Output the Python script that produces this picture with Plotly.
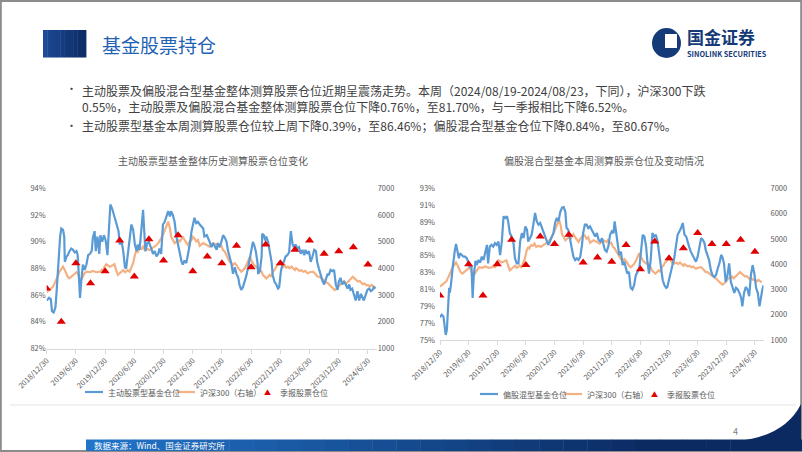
import plotly.graph_objects as go

W, H = 802, 452
FONT = "Noto Sans CJK SC"


def px(x):
    return x / W


def py(y):
    return 1 - y / H


# ---------------- data ----------------
tick_vals = [2019.0, 2019.5, 2020.0, 2020.5, 2021.0, 2021.5, 2022.0, 2022.5, 2023.0, 2023.5, 2024.0, 2024.5]
tick_text = ['2018/12/30', '2019/6/30', '2019/12/30', '2020/6/30', '2020/12/30', '2021/6/30',
             '2021/12/30', '2022/6/30', '2022/12/30', '2023/6/30', '2023/12/30', '2024/6/30']

quarter_x = [2019.00, 2019.25, 2019.50, 2019.75, 2020.00, 2020.25, 2020.50, 2020.75, 2021.00, 2021.25,
             2021.50, 2021.75, 2022.00, 2022.25, 2022.50, 2022.75, 2023.00, 2023.25, 2023.50, 2023.75,
             2024.00, 2024.25, 2024.50]
q_active = [86.5, 84.0, 88.4, 86.9, 87.8, 90.1, 87.4, 90.2, 88.6, 90.5,
            87.8, 88.9, 88.4, 89.7, 88.1, 89.8, 88.4, 89.4, 90.1, 89.1,
            89.3, 89.6, 88.3]
q_mixed = [80.3, None, 84.0, 80.3, 84.0, 86.9, 83.9, 87.3, 86.4, 87.5,
           84.2, 84.8, 84.3, 86.3, 83.4, 86.7, 84.7, 85.9, 87.7, 86.4,
           86.4, 86.9, 85.5]

active_x = [
    2019.00, 2019.04, 2019.07, 2019.09, 2019.12, 2019.15, 2019.17, 2019.18, 2019.21, 2019.23,
    2019.25, 2019.28, 2019.30, 2019.31, 2019.34, 2019.36, 2019.39, 2019.42, 2019.45, 2019.48,
    2019.51, 2019.53, 2019.55, 2019.57, 2019.59, 2019.62, 2019.65, 2019.68, 2019.71, 2019.74,
    2019.77, 2019.79, 2019.82, 2019.84, 2019.87, 2019.90, 2019.92, 2019.95, 2019.98, 2020.01,
    2020.04, 2020.07, 2020.09, 2020.12, 2020.15, 2020.19, 2020.23, 2020.25, 2020.28, 2020.31,
    2020.34, 2020.36, 2020.39, 2020.42, 2020.45, 2020.48, 2020.51, 2020.54, 2020.56, 2020.59,
    2020.62, 2020.65, 2020.67, 2020.69, 2020.72, 2020.75, 2020.79, 2020.82, 2020.85, 2020.88,
    2020.91, 2020.93, 2020.96, 2020.99, 2021.02, 2021.05, 2021.08, 2021.11, 2021.13, 2021.16,
    2021.19, 2021.22, 2021.25, 2021.28, 2021.31, 2021.33, 2021.36, 2021.39, 2021.42, 2021.45,
    2021.48, 2021.50, 2021.53, 2021.56, 2021.59, 2021.62, 2021.68, 2021.70, 2021.74, 2021.79,
    2021.82, 2021.85, 2021.88, 2021.91, 2021.93, 2021.96, 2021.99, 2022.02, 2022.05, 2022.08,
    2022.10, 2022.13, 2022.16, 2022.19, 2022.22, 2022.25, 2022.28, 2022.30, 2022.33, 2022.36,
    2022.39, 2022.42, 2022.45, 2022.48, 2022.50, 2022.53, 2022.55, 2022.58, 2022.61, 2022.62,
    2022.65, 2022.68, 2022.69, 2022.72, 2022.74, 2022.76, 2022.79, 2022.82, 2022.85, 2022.87,
    2022.90, 2022.93, 2022.96, 2022.98, 2023.01, 2023.04, 2023.06, 2023.09, 2023.12, 2023.15,
    2023.18, 2023.21, 2023.23, 2023.26, 2023.29, 2023.32, 2023.35, 2023.38, 2023.41, 2023.43,
    2023.46, 2023.49, 2023.52, 2023.55, 2023.58, 2023.61, 2023.63, 2023.66, 2023.69, 2023.72,
    2023.75, 2023.78, 2023.81, 2023.83, 2023.86, 2023.89, 2023.92, 2023.95, 2023.98, 2024.00,
    2024.03, 2024.06, 2024.09, 2024.12, 2024.15, 2024.18, 2024.20, 2024.23, 2024.26, 2024.29,
    2024.32, 2024.35, 2024.38, 2024.41, 2024.43, 2024.46, 2024.49, 2024.52, 2024.55, 2024.58,
    2024.60, 2024.63]
active_pct = [
    85.6, 85.8, 85.7, 84.8, 84.7, 85.1, 86.3, 87.1, 89.1, 90.4,
    91.0, 90.9, 90.4, 88.5, 88.9, 89.0, 89.3, 89.5, 89.4, 89.2,
    89.3, 89.0, 87.5, 85.8, 87.0, 88.3, 87.9, 88.3, 89.0, 89.1,
    89.3, 90.3, 90.8, 89.3, 90.4, 89.1, 90.5, 90.0, 90.5, 90.1,
    89.0, 91.0, 92.8, 92.5, 92.0, 91.5, 90.8, 89.8, 90.1, 89.3,
    88.1, 88.0, 89.0, 90.0, 91.3, 90.9, 89.8, 89.3, 89.8, 89.4,
    91.0, 92.4, 90.8, 89.3, 89.9, 90.0, 89.5, 89.1, 89.3, 88.9,
    89.1, 89.5, 89.1, 91.3, 91.5, 92.0, 92.3, 91.9, 92.3, 92.0,
    91.5, 90.4, 89.8, 89.0, 88.5, 88.3, 88.6, 88.4, 89.0, 89.8,
    90.8, 91.3, 91.8, 91.4, 91.5, 91.3, 91.0, 90.4, 90.5, 90.0,
    89.6, 89.9, 89.6, 89.4, 89.9, 89.6, 90.0, 90.5, 90.3, 90.0,
    89.4, 88.9, 88.4, 87.6, 88.1, 87.6, 87.3, 86.8, 86.4, 86.6,
    87.0, 87.5, 88.1, 88.8, 89.0, 90.0, 89.8, 89.3, 88.4, 87.6,
    87.8, 88.9, 90.6, 90.5, 90.1, 90.4, 90.0, 89.3, 88.5, 87.5,
    87.0, 86.8, 86.5, 86.6, 87.8, 88.4, 88.5, 88.9, 89.0, 89.2,
    90.8, 89.8, 89.6, 89.8, 89.5, 89.6, 89.1, 89.4, 89.0, 89.4,
    89.1, 89.3, 88.5, 88.9, 89.4, 89.3, 88.5, 88.0, 87.5, 87.1,
    86.8, 87.3, 87.6, 87.5, 87.9, 87.8, 87.9, 86.8, 86.4, 87.0,
    87.3, 86.8, 87.0, 86.8, 86.5, 86.8, 86.4, 86.5, 86.0, 85.6,
    86.3, 85.6, 86.1, 85.8, 85.6, 86.0, 86.4, 86.5, 86.3, 86.4,
    86.6, 86.5]

mixed_x = [
    2019.00, 2019.03, 2019.06, 2019.08, 2019.10, 2019.12, 2019.13, 2019.16, 2019.17, 2019.19,
    2019.22, 2019.24, 2019.26, 2019.28, 2019.30, 2019.33, 2019.35, 2019.38, 2019.41, 2019.44,
    2019.47, 2019.49, 2019.52, 2019.55, 2019.57, 2019.59, 2019.62, 2019.64, 2019.67, 2019.70,
    2019.73, 2019.76, 2019.79, 2019.82, 2019.84, 2019.87, 2019.90, 2019.93, 2019.96, 2019.99,
    2020.02, 2020.05, 2020.08, 2020.11, 2020.14, 2020.17, 2020.19, 2020.22, 2020.25, 2020.28,
    2020.31, 2020.34, 2020.37, 2020.40, 2020.43, 2020.46, 2020.49, 2020.52, 2020.54, 2020.57,
    2020.60, 2020.63, 2020.66, 2020.69, 2020.72, 2020.75, 2020.78, 2020.81, 2020.84, 2020.87,
    2020.89, 2020.92, 2020.95, 2020.98, 2021.01, 2021.04, 2021.07, 2021.10, 2021.13, 2021.16,
    2021.19, 2021.21, 2021.24, 2021.27, 2021.30, 2021.33, 2021.36, 2021.39, 2021.42, 2021.45,
    2021.48, 2021.50, 2021.53, 2021.56, 2021.59, 2021.62, 2021.65, 2021.68, 2021.71, 2021.74,
    2021.77, 2021.80, 2021.83, 2021.85, 2021.88, 2021.91, 2021.94, 2021.97, 2022.00, 2022.03,
    2022.05, 2022.07, 2022.10, 2022.13, 2022.16, 2022.19, 2022.22, 2022.25, 2022.27, 2022.30,
    2022.33, 2022.36, 2022.39, 2022.42, 2022.45, 2022.48, 2022.51, 2022.54, 2022.57, 2022.60,
    2022.62, 2022.65, 2022.68, 2022.71, 2022.74, 2022.77, 2022.80, 2022.83, 2022.86, 2022.89,
    2022.92, 2022.95, 2022.97, 2023.00, 2023.03, 2023.06, 2023.09, 2023.12, 2023.15, 2023.18,
    2023.21, 2023.24, 2023.27, 2023.30, 2023.32, 2023.35, 2023.38, 2023.41, 2023.44, 2023.47,
    2023.50, 2023.53, 2023.56, 2023.59, 2023.62, 2023.64, 2023.67, 2023.70, 2023.73, 2023.76,
    2023.79, 2023.82, 2023.85, 2023.88, 2023.91, 2023.93, 2023.96, 2023.99, 2024.02, 2024.05,
    2024.08, 2024.11, 2024.14, 2024.17, 2024.20, 2024.23, 2024.26, 2024.28, 2024.31, 2024.34,
    2024.37, 2024.40, 2024.43, 2024.46, 2024.49, 2024.52, 2024.55, 2024.58, 2024.61, 2024.63,
    2024.65]
mixed_pct = [
    77.7, 78.0, 77.8, 76.6, 75.6, 76.2, 78.0, 81.2, 80.6, 81.5,
    83.5, 85.1, 85.7, 86.4, 85.7, 84.7, 85.3, 85.1, 84.9, 84.9,
    84.7, 84.3, 83.7, 83.7, 80.0, 82.7, 84.4, 83.9, 84.5, 84.2,
    84.9, 84.5, 85.5, 86.3, 84.1, 86.1, 86.3, 86.1, 86.5, 86.3,
    86.7, 85.1, 86.7, 89.7, 89.5, 89.7, 89.1, 87.7, 87.3, 86.7,
    84.7, 84.1, 84.1, 86.7, 87.7, 87.1, 88.5, 88.1, 86.7, 87.1,
    87.5, 88.7, 90.1, 89.1, 88.7, 88.9, 88.3, 87.7, 87.3, 86.7,
    86.3, 86.7, 87.3, 87.7, 88.9, 89.5, 89.1, 90.2, 90.7, 90.8,
    90.2, 88.3, 88.1, 87.1, 86.3, 84.9, 84.5, 84.7, 84.5, 84.9,
    86.3, 87.7, 88.7, 88.7, 88.3, 88.5, 88.1, 87.7, 87.3, 87.7,
    86.9, 86.7, 87.1, 86.5, 85.7, 85.5, 86.1, 87.5, 87.9, 87.7,
    89.1, 88.1, 86.7, 85.1, 85.5, 83.9, 84.3, 83.5, 82.9, 83.1,
    81.2, 81.0, 81.5, 82.7, 83.1, 83.5, 85.5, 87.5, 87.3, 86.1,
    84.5, 82.9, 84.5, 87.7, 87.3, 87.5, 86.7, 85.3, 83.5, 82.1,
    81.5, 81.2, 81.3, 82.3, 82.9, 83.9, 84.7, 86.3, 87.5, 87.9,
    88.3, 88.9, 87.5, 87.3, 86.7, 86.1, 85.5, 85.1, 84.7, 84.3,
    84.9, 85.9, 87.1, 86.9, 86.5, 85.7, 85.1, 84.5, 83.3, 82.7,
    82.5, 82.7, 83.5, 84.1, 85.1, 84.9, 84.1, 81.9, 82.7, 84.1,
    81.9, 81.2, 80.6, 81.2, 81.0, 80.6, 80.0, 79.0, 80.6, 81.3,
    81.0, 80.2, 82.7, 83.9, 82.9, 81.2, 80.6, 79.0, 80.4, 81.0,
    81.5]

hs300_x = [
    2019.00, 2019.05, 2019.11, 2019.15, 2019.18, 2019.22, 2019.26, 2019.28, 2019.31, 2019.34,
    2019.36, 2019.39, 2019.42, 2019.45, 2019.48, 2019.51, 2019.54, 2019.56, 2019.59, 2019.62,
    2019.65, 2019.68, 2019.74, 2019.79, 2019.85, 2019.91, 2019.94, 2019.96, 2019.99, 2020.02,
    2020.08, 2020.14, 2020.16, 2020.19, 2020.22, 2020.25, 2020.31, 2020.34, 2020.39, 2020.42,
    2020.45, 2020.48, 2020.51, 2020.54, 2020.56, 2020.59, 2020.62, 2020.65, 2020.68, 2020.73,
    2020.76, 2020.82, 2020.85, 2020.88, 2020.91, 2020.93, 2020.96, 2020.99, 2021.02, 2021.05,
    2021.08, 2021.11, 2021.13, 2021.16, 2021.19, 2021.22, 2021.25, 2021.28, 2021.31, 2021.33,
    2021.36, 2021.39, 2021.42, 2021.45, 2021.48, 2021.50, 2021.53, 2021.56, 2021.59, 2021.62,
    2021.68, 2021.74, 2021.79, 2021.85, 2021.91, 2021.93, 2021.96, 2021.99, 2022.02, 2022.05,
    2022.08, 2022.10, 2022.13, 2022.16, 2022.19, 2022.22, 2022.25, 2022.28, 2022.30, 2022.33,
    2022.36, 2022.39, 2022.42, 2022.45, 2022.48, 2022.50, 2022.53, 2022.55, 2022.58, 2022.61,
    2022.65, 2022.68, 2022.70, 2022.73, 2022.76, 2022.79, 2022.82, 2022.85, 2022.87, 2022.90,
    2022.93, 2022.96, 2022.99, 2023.02, 2023.05, 2023.07, 2023.10, 2023.13, 2023.16, 2023.19,
    2023.22, 2023.25, 2023.27, 2023.30, 2023.33, 2023.36, 2023.39, 2023.42, 2023.44, 2023.47,
    2023.50, 2023.53, 2023.56, 2023.59, 2023.62, 2023.64, 2023.67, 2023.70, 2023.73, 2023.76,
    2023.79, 2023.82, 2023.84, 2023.87, 2023.90, 2023.93, 2023.96, 2023.99, 2024.02, 2024.04,
    2024.07, 2024.10, 2024.13, 2024.16, 2024.19, 2024.22, 2024.24, 2024.27, 2024.30, 2024.33,
    2024.36, 2024.39, 2024.41, 2024.44, 2024.47, 2024.50, 2024.53, 2024.56, 2024.59, 2024.62]
hs300 = [
    3110, 3190, 3320, 3510, 3690, 3880, 4010, 4070, 3940, 3820,
    3690, 3630, 3690, 3760, 3820, 3860, 3790, 3630, 3570, 3690,
    3820, 3880, 3860, 3910, 3860, 3880, 3940, 3860, 4070, 4160,
    4070, 4130, 4160, 3940, 3760, 3820, 3940, 3860, 3940, 3880,
    4010, 4200, 4510, 4690, 4630, 4760, 4730, 4820, 4690, 4730,
    4690, 4770, 4820, 4880, 4950, 5010, 5130, 5260, 5440, 5630,
    5760, 5510, 5190, 5070, 4950, 5010, 5070, 5010, 5130, 5190,
    5070, 4950, 4880, 5010, 5070, 5190, 5130, 5010, 5070, 4850,
    4950, 4880, 4820, 4950, 4880, 4950, 4820, 4850, 4690, 4630,
    4510, 4380, 4260, 4200, 4130, 4200, 4130, 4010, 3940, 3880,
    3940, 4010, 4130, 4280, 4440, 4320, 4200, 4130, 4070, 4030,
    3940, 3880, 3760, 3690, 3630, 3690, 3760, 3690, 3880, 3940,
    4070, 4130, 4200, 4200, 4070, 4130, 4030, 4070, 4010, 4070,
    4010, 3940, 4010, 3940, 3910, 3940, 3880, 3910, 3880, 3820,
    3860, 3880, 3880, 3820, 3760, 3690, 3690, 3630, 3570, 3510,
    3480, 3440, 3380, 3320, 3260, 3190, 3230, 3320, 3380, 3440,
    3480, 3510, 3440, 3510, 3570, 3630, 3690, 3630, 3570, 3510,
    3530, 3440, 3410, 3440, 3380, 3380, 3320, 3380, 3320, 3280]

# ---------------- colours ----------------
BLUE = '#5b9bd5'
ORANGE = '#f4b183'
RED = '#e00000'
AXIS_GREY = '#d9d9d9'
TEXT_GREY = '#595959'

fig = go.Figure()

# left chart
fig.add_trace(go.Scatter(x=hs300_x, y=hs300, mode='lines', name='沪深300（右轴）',
                         line=dict(color=ORANGE, width=2.2), xaxis='x', yaxis='y',
                         showlegend=False, hoverinfo='skip'))
fig.add_trace(go.Scatter(x=active_x, y=active_pct, mode='lines', name='主动股票型基金仓位',
                         line=dict(color=BLUE, width=2.2), xaxis='x', yaxis='y2',
                         showlegend=False, hoverinfo='skip'))
fig.add_trace(go.Scatter(x=quarter_x, y=q_active, mode='markers', name='季报股票仓位',
                         marker=dict(symbol='triangle-up', size=8, color=RED), xaxis='x', yaxis='y2',
                         showlegend=False, hoverinfo='skip'))
# right chart
fig.add_trace(go.Scatter(x=hs300_x, y=hs300, mode='lines', name='沪深300（右轴）',
                         line=dict(color=ORANGE, width=2.2), xaxis='x2', yaxis='y3',
                         showlegend=False, hoverinfo='skip'))
fig.add_trace(go.Scatter(x=mixed_x, y=mixed_pct, mode='lines', name='偏股混型基金仓位',
                         line=dict(color=BLUE, width=2.2), xaxis='x2', yaxis='y4',
                         showlegend=False, hoverinfo='skip'))
fig.add_trace(go.Scatter(x=quarter_x, y=q_mixed, mode='markers', name='季报股票仓位',
                         marker=dict(symbol='triangle-up', size=8, color=RED), xaxis='x2', yaxis='y4',
                         showlegend=False, hoverinfo='skip'))

tickfont = dict(size=7.5, color=TEXT_GREY, family=FONT)
xcommon = dict(range=[2019.0, 2024.65], tickmode='array', tickvals=tick_vals, ticktext=tick_text,
               tickangle=-45, showline=True, linecolor=AXIS_GREY, linewidth=1, ticks='outside',
               ticklen=4, tickcolor=AXIS_GREY, showgrid=False, zeroline=False, tickfont=tickfont,
               fixedrange=True, automargin=False)
ycommon = dict(showgrid=False, zeroline=False, showline=False, ticks='', tickfont=tickfont,
               fixedrange=True, automargin=False)

fig.update_layout(
    width=W, height=H, margin=dict(l=0, r=0, t=0, b=0, autoexpand=False),
    paper_bgcolor='white', plot_bgcolor='rgba(0,0,0,0)',
    font=dict(family=FONT, color=TEXT_GREY),
    showlegend=False,
    xaxis=dict(domain=[px(46.7), px(376.7)], anchor='y', **xcommon),
    yaxis=dict(domain=[py(348.5), py(188.5)], anchor='x', side='right', range=[1000, 7000],
               dtick=1000, tickformat='d', **ycommon),
    yaxis2=dict(overlaying='y', anchor='x', side='left', range=[82, 94], tick0=82, dtick=2,
                ticksuffix='%', **ycommon),
    xaxis2=dict(domain=[px(440), px(763.5)], anchor='y3', **xcommon),
    yaxis3=dict(domain=[py(340), py(188.5)], anchor='x2', side='right', range=[1000, 7000],
                dtick=1000, tickformat='d', ticklabelstandoff=6, **ycommon),
    yaxis4=dict(overlaying='y3', anchor='x2', side='left', range=[75, 93], tick0=75, dtick=2,
                ticksuffix='%', ticklabelstandoff=4, **ycommon),
    hovermode=False,
)

shapes = []
ann = []


def text(x, y, s, size, color, xanchor='left', bold=False):
    if bold:
        s = f'<b>{s}</b>'
    ann.append(dict(x=px(x), y=py(y), xref='paper', yref='paper', text=s, showarrow=False,
                    xanchor=xanchor, yanchor='middle', align='left',
                    font=dict(size=size, color=color, family=FONT)))


# slide border
shapes.append(dict(type='rect', xref='paper', yref='paper', x0=0.001, x1=0.999, y0=0.002, y1=0.998,
                   line=dict(color='#8c8c8c', width=2), fillcolor='rgba(0,0,0,0)', layer='below'))
# header block (navy gradient)
n = 10
for i in range(n):
    t = i / (n - 1)
    r = int(0x1c + (0x0e - 0x1c) * t)
    g = int(0x4a + (0x2c - 0x4a) * t)
    b = int(0x96 + (0x66 - 0x96) * t)
    x0 = 43 + (86 - 43) * i / n
    x1 = 43 + (86 - 43) * (i + 1) / n
    shapes.append(dict(type='rect', xref='paper', yref='paper', x0=px(x0), x1=px(x1) + 0.0005,
                       y0=py(57.5), y1=py(30), line=dict(width=0), fillcolor=f'rgb({r},{g},{b})'))
# logo icon
shapes.append(dict(type='circle', xref='paper', yref='paper', x0=px(652), x1=px(681), y0=py(58), y1=py(28),
                   line=dict(width=0), fillcolor='#143a78'))
shapes.append(dict(type='rect', xref='paper', yref='paper', x0=px(665), x1=px(677), y0=py(48), y1=py(34),
                   line=dict(width=0), fillcolor='white'))
# separator line below charts
shapes.append(dict(type='line', xref='paper', yref='paper', x0=px(10), x1=px(796), y0=py(405), y1=py(405),
                   line=dict(color='#e3e3e3', width=1)))
# footer gradient bar
n = 30
for i in range(n):
    t = i / (n - 1)
    tt = min(1.0, t * 1.25)
    r = int(0x22 + (0x0b - 0x22) * tt)
    g = int(0x74 + (0x2a - 0x74) * tt)
    b = int(0xc8 + (0x62 - 0xc8) * tt)
    x0 = 86 + (802 - 86) * i / n
    x1 = 86 + (802 - 86) * (i + 1) / n
    shapes.append(dict(type='rect', xref='paper', yref='paper', x0=px(x0), x1=px(x1) + 0.0005,
                       y0=py(451), y1=py(439.5), line=dict(width=0), fillcolor=f'rgb({r},{g},{b})'))
# corner swoosh
shapes.append(dict(type='path', xref='paper', yref='paper',
                   path=(f'M {px(738)} {py(441)} Q {px(785)} {py(436)} {px(801)} {py(404)} '
                         f'L {px(801)} {py(451)} L {px(738)} {py(451)} Z'),
                   line=dict(width=0), fillcolor='#0b2a62'))

# legends (drawn beneath each chart)
LEG = 8


def legend_row(y, items):
    for kind, x, color, label in items:
        if kind == 'line':
            shapes.append(dict(type='line', xref='paper', yref='paper', x0=px(x), x1=px(x + 18),
                               y0=py(y), y1=py(y), line=dict(color=color, width=2.2)))
            text(x + 20.5, y, label, LEG, TEXT_GREY)
        else:
            text(x, y - 0.5, '▲', 7, color, xanchor='center')
            text(x + 11, y, label, LEG, TEXT_GREY)


legend_row(392, [('line', 85, BLUE, fig.data[1].name),
                 ('line', 177, ORANGE, fig.data[0].name),
                 ('marker', 267, RED, fig.data[2].name)])
legend_row(394, [('line', 480, BLUE, fig.data[4].name),
                 ('line', 564, ORANGE, fig.data[3].name),
                 ('marker', 654, RED, fig.data[5].name)])

text(100, 45, '基金股票持仓', 19, '#1f63b4')
text(685, 37, '国金证券', 17, '#143a78', bold=True)
text(685, 53.5, 'SINOLINK SECURITIES', 7.3, '#143a78', bold=True)

BODY = '#404040'
text(64, 88, '•', 11, BODY)
ann.append(dict(x=px(80), y=py(80), xref='paper', yref='paper', showarrow=False,
                xanchor='left', yanchor='top', align='left',
                text=('主动股票及偏股混合型基金整体测算股票仓位近期呈震荡走势。本周（2024/08/19-2024/08/23，下同），沪深300下跌'
                      '<br>0.55%，主动股票及偏股混合基金整体测算股票仓位下降0.76%，至81.70%，与一季报相比下降6.52%。'),
                font=dict(size=12, color=BODY, family=FONT)))
text(64, 125, '•', 11, BODY)
text(80, 125, '主动股票型基金本周测算股票仓位较上周下降0.39%，至86.46%；偏股混合型基金仓位下降0.84%，至80.67%。', 12, BODY)

text(212.5, 160.5, '主动股票型基金整体历史测算股票仓位变化', 10, TEXT_GREY, xanchor='center')
text(604, 160.5, '偏股混合型基金本周测算股票仓位及变动情况', 10, TEXT_GREY, xanchor='center')

text(92, 445, '数据来源：Wind、国金证券研究所', 8.5, 'white')
text(735, 431, '4', 9, '#7f7f7f', xanchor='center')

fig.update_layout(shapes=shapes, annotations=ann)

fig.write_html("out.html",
               config={'displayModeBar': False, 'staticPlot': True},
               post_script="document.body.style.margin='0';document.body.style.overflow='hidden';")
